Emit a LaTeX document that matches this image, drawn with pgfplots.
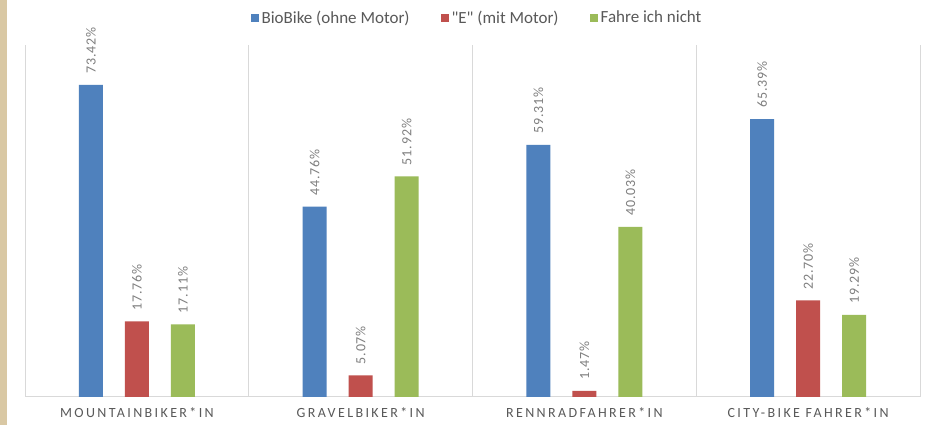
\documentclass[border=0pt]{standalone}
\usepackage{fontspec}
\setmainfont{Carlito}
\newfontfamily\legfont[Ligatures=TeXOff]{Carlito}
\newfontfamily\catfont[LetterSpace=17]{Carlito}
\newfontfamily\valfont[LetterSpace=6]{Carlito}
\usepackage{pgfplots}
\usepackage{pgfplotstable}
\pgfplotsset{compat=1.18}

\definecolor{bioblue}{HTML}{4F81BD}
\definecolor{ered}{HTML}{C0504D}
\definecolor{nichtgreen}{HTML}{9BBB59}
\definecolor{gridgray}{HTML}{D9D9D9}
\definecolor{labelgray}{HTML}{595959}
\definecolor{valgray}{HTML}{7F7F7F}
\definecolor{paper}{HTML}{D9C8A4}

\pgfplotstableread{
x bio e nicht
0 73.42 17.76 17.11
1 44.76 5.07 51.92
2 59.31 1.47 40.03
3 65.39 22.70 19.29
}\data

\begin{document}
\begin{tikzpicture}
\useasboundingbox (0,0) rectangle (928pt,425pt);
\fill[white] (0,0) rectangle (928pt,425pt);
\fill[paper] (0,0) rectangle (7pt,425pt);
\begin{axis}[
    at={(25pt,28pt)}, anchor=south west,
    scale only axis, width=895pt, height=352pt,
    ybar=22pt, bar width=24pt,
    ymin=0, ymax=82.8, xmin=-0.5, xmax=3.5,
    clip=false,
    axis line style={draw=none},
    ytick=\empty,
    xtick={0,1,2,3},
    xticklabels={MOUNTAINBIKER*IN, GRAVELBIKER*IN, RENNRADFAHRER*IN, CITY-BIKE FAHRER*IN},
    major tick length=0pt,
    xticklabel style={font=\catfont\fontsize{14}{16}\selectfont, text=labelgray, yshift=-7pt},
    extra x ticks={-0.5,0.5,1.5,2.5,3.5},
    extra x tick labels={},
    extra x tick style={grid=major, major grid style={draw=gridgray, line width=1pt}},
    extra y ticks={0},
    extra y tick labels={},
    extra y tick style={grid=major, major grid style={draw=gridgray, line width=1pt}},
    nodes near coords={\pgfmathprintnumber[fixed,fixed zerofill,precision=2,assume math mode=true]{\pgfplotspointmeta}\%},
    every node near coord/.append style={rotate=90, anchor=west, inner xsep=11pt,
        font=\valfont\fontsize{14}{16}\selectfont, text=valgray},
    legend columns=-1,
    legend style={at={(0.505,1.078)}, anchor=center, draw=none, fill=none,
        font=\legfont\fontsize{17}{20}\selectfont, text=labelgray,
        /tikz/every even column/.append style={column sep=29pt},
        /tikz/every odd column/.append style={column sep=1pt}},
    legend image code/.code={\fill[#1] (0pt,-4pt) rectangle (8pt,4pt);},
]
\addplot[fill=bioblue, draw=none] table[x=x, y=bio] {\data};
\addlegendentry{BioBike (ohne Motor)}
\addplot[fill=ered, draw=none] table[x=x, y=e] {\data};
\addlegendentry{"E" (mit Motor)}
\addplot[fill=nichtgreen, draw=none] table[x=x, y=nicht] {\data};
\addlegendentry{Fahre ich nicht}
\end{axis}
\end{tikzpicture}
\end{document}
